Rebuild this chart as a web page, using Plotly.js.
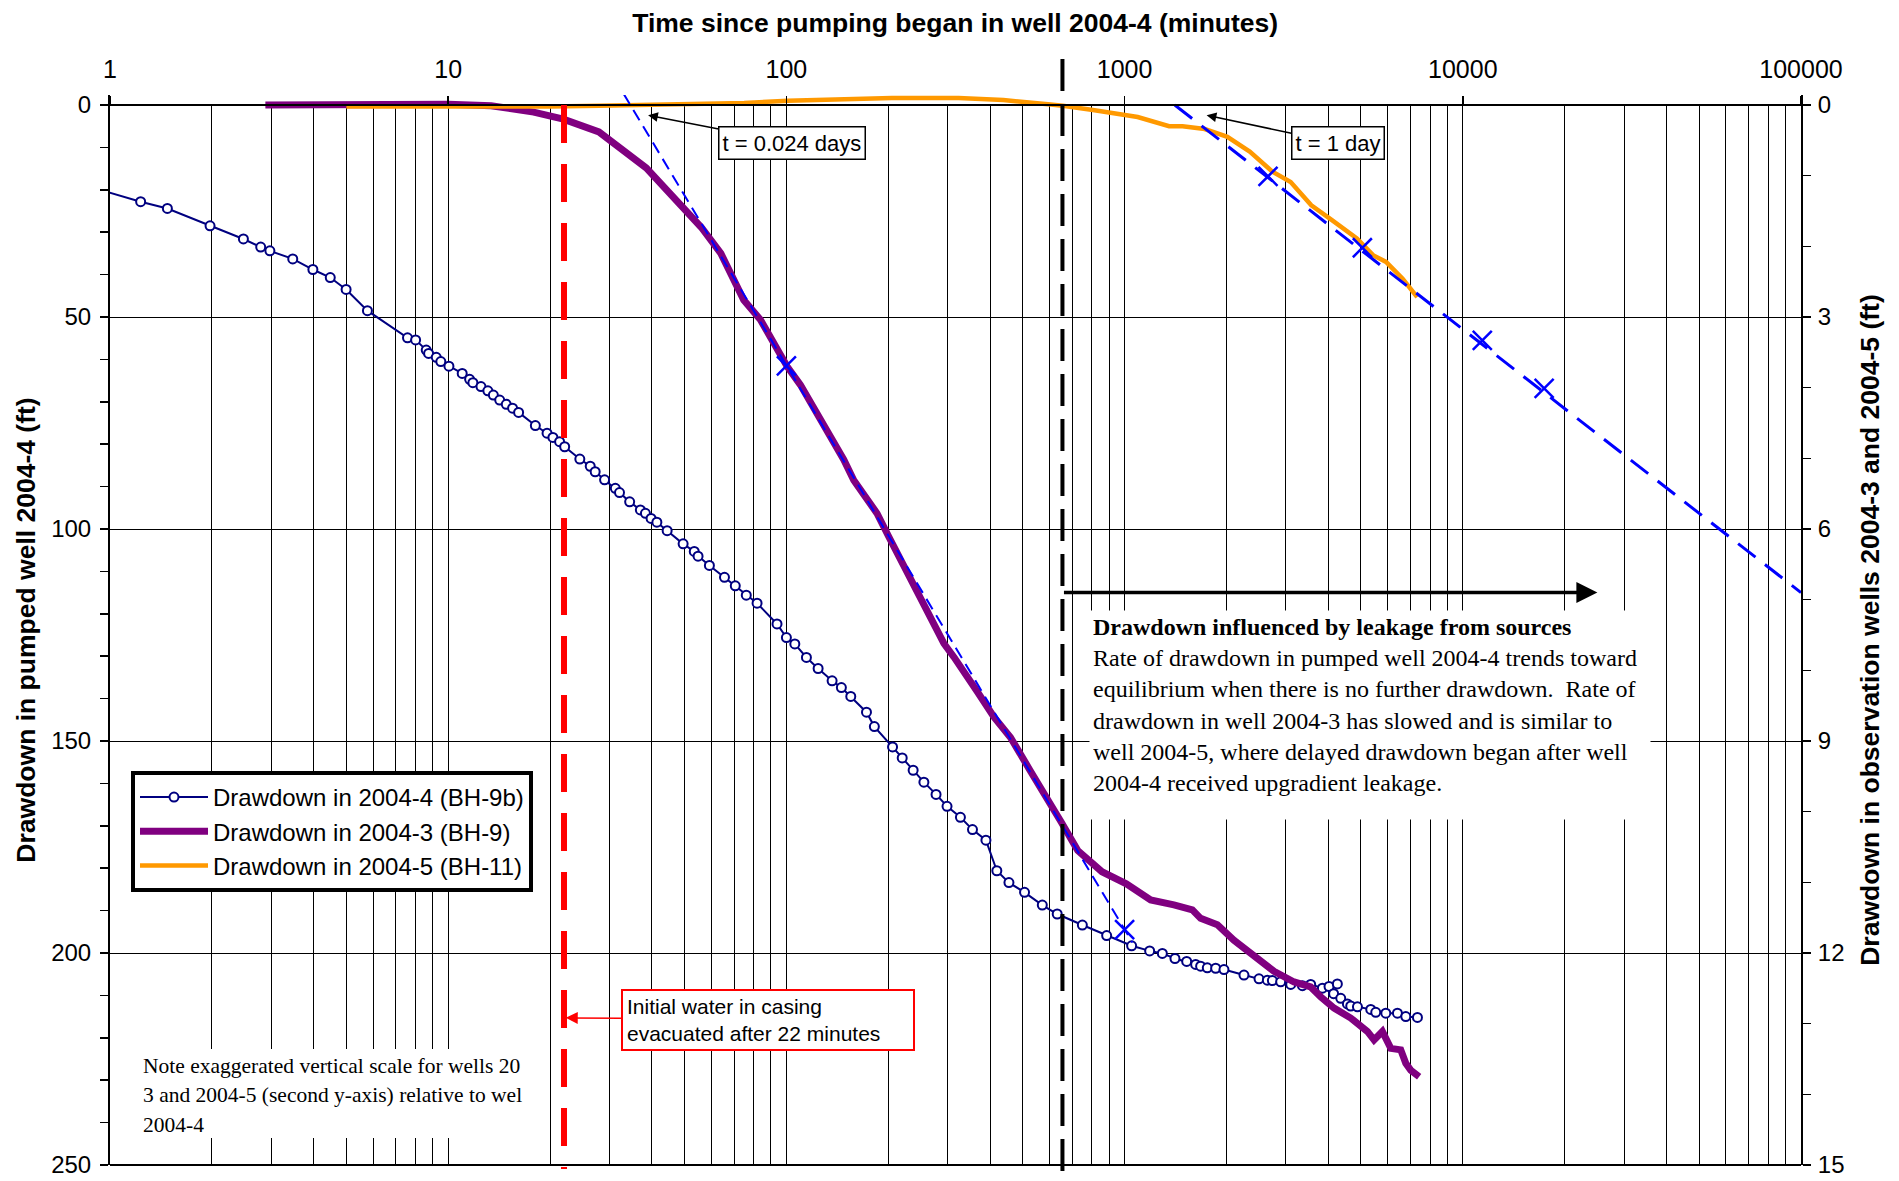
<!DOCTYPE html>
<html>
<head>
<meta charset="utf-8">
<script src="https://cdn.plot.ly/plotly-3.0.1.min.js"></script>
<style>
html,body{margin:0;padding:0;background:#fff;}
#chart{width:1899px;height:1181px;}
</style>
</head>
<body>
<div id="chart"></div>
<script>
// ---------- data ----------
// Drawdown in pumped well 2004-4 (BH-9b), left axis (ft)
const time44 = [0.95,1.232,1.478,1.976,2.48,2.79,2.97,3.47,3.98,4.48,4.99,5.77,7.58,8.01,8.61,8.75,9.22,9.51,10.05,11.0,11.57,11.83,12.5,13.1,13.6,14.2,14.85,15.5,16.15,18.1,19.6,20.4,21.35,22.1,24.5,26.3,27.2,29.0,31.2,32.1,34.4,37.0,38.3,39.8,41.4,44.4,49.5,53.4,54.8,59.2,65.6,70.6,76.1,81.9,93.8,100,105.9,114.6,124.1,136.5,145.4,155,172.5,182,206,220,237,255,277,298.5,327,355,389,419,455,506,571,632,750,885,1049,1186,1293,1409,1526,1622,1678,1756,1859,1967,2254,2497,2643,2735,2894,3099,3356,3550,3845,4022,4257,4150,4356,4558,4663,4881,5343,5528,5920,6408,6783,7343];
const dd44 = [20.2,22.8,24.4,28.5,31.6,33.5,34.4,36.3,38.8,40.7,43.5,48.5,54.9,55.4,57.8,58.6,59.5,60.5,61.6,63.3,64.7,65.5,66.4,67.4,68.4,69.6,70.6,71.5,72.5,75.6,77.4,78.4,79.4,80.6,83.5,85.2,86.5,88.4,90.4,91.4,93.6,95.5,96.3,97.5,98.4,100.4,103.5,105.3,106.4,108.6,111.4,113.4,115.6,117.5,122.4,125.6,127.1,130.3,132.9,135.8,137.4,139.5,143.2,146.6,151.4,154,156.9,159.7,162.6,165.4,168,170.9,173.4,180.6,183.4,185.7,188.7,190.8,193.4,195.9,198.3,199.5,200.1,201.3,202.0,202.7,203.1,203.5,203.6,203.9,205.2,206.1,206.4,206.5,206.8,207.4,207.7,207.4,208.3,207.9,207.3,209.6,210.7,212.0,212.5,212.7,213.3,214.0,214.2,214.2,215.0,215.2];

// Drawdown in 2004-3 (BH-9), right axis (ft)
const time43 = [2.88,5,8,10,13.4,17.9,21.9,27.9,38.5,49.9,56,64,74.8,83.8,91.7,100.5,110,117.8,126.1,135,147.8,158.2,171.3,185.4,200.8,217.5,238.1,254.9,272.9,292.2,312.6,334.7,366.6,410.7,460,526,600,650,727,857,1012,1194,1399,1586,1678,1881,2106,2413,2766,3170,3550,3802,4163,4663,5223,5465,5784,6124,6555,6783,7018,7429];
const dd43 = [0,-0.01,-0.02,-0.01,0.01,0.10,0.20,0.38,0.89,1.45,1.73,2.10,2.76,3.04,3.37,3.70,3.96,4.20,4.43,4.69,5.02,5.31,5.54,5.78,6.11,6.44,6.77,7.05,7.38,7.62,7.81,8.04,8.30,8.66,8.95,9.42,9.90,10.15,10.55,10.85,11.02,11.25,11.32,11.39,11.51,11.60,11.82,12.05,12.26,12.41,12.48,12.62,12.78,12.92,13.11,13.23,13.11,13.35,13.37,13.56,13.66,13.75];

// Drawdown in 2004-5 (BH-11), right axis (ft)
const time45 = [5,7,10,13,20,28,52,75,101,137,205,323,438,594,656,806,1093,1354,1484,1725,2013,2344,2729,3097,3565,4103,4862,5446,5930,6640,7330];
const dd45 = [0.02,0.02,0.02,0.03,0.02,0.01,-0.01,-0.03,-0.06,-0.08,-0.10,-0.10,-0.07,-0.01,0.01,0.07,0.17,0.30,0.30,0.34,0.45,0.66,0.94,1.09,1.42,1.63,1.89,2.13,2.22,2.46,2.72];

// Straight-line fits (right axis)
const fit43Time = [33, 1054];
const fit43Dd = [-0.16, 11.85];
const fit43MarkTime = [100, 1000];
const fit43MarkDd = [3.69, 11.67];
const fit45Time = [1407, 100000];
const fit45Dd = [0, 6.9];
const fit45MarkTime = [2655, 5047, 11420, 17400];
const fit45MarkDd = [1.01, 2.02, 3.33, 4.01];

// Event times (minutes) and annotation anchors
const casingTime = 22;
const leakageTime = 655;
const leakageArrowEnd = 25000;
const leakageArrowDepth = 115;
const t024Time = 39;     // arrow tip for t = 0.024 days
const t1dayTime = 1748;  // arrow tip for t = 1 day

const xTickVals = [1, 10, 100, 1000, 10000, 100000];
const xTickText = ['1', '10', '100', '1000', '10000', '100000'];

const noteLines = ['Note exaggerated vertical scale for wells 20',
                   '3 and 2004-5 (second y-axis) relative to wel',
                   '2004-4'];

// ---------- geometry helpers (pixels of the 1899x1181 page) ----------
const PLOT_TOP = 95, PLOT_BOTTOM = 1165, PLOT_LEFT = 110, PLOT_RIGHT = 1801;
const ZERO_PX = 105;                    // pixel row of drawdown 0
const PX_PER_FT = (PLOT_BOTTOM - ZERO_PX) / 250;
const yTopFt = -(ZERO_PX - PLOT_TOP) / PX_PER_FT;   // left axis value at plot top
const y2TopFt = yTopFt * 15 / 250;
const py = Y => (PLOT_BOTTOM - Y) / (PLOT_BOTTOM - PLOT_TOP);
const px = X => (X - PLOT_LEFT) / (PLOT_RIGHT - PLOT_LEFT);

// ---------- traces ----------
const L = Math.log10;
const traces = [
  {x: time44, y: dd44, yaxis: 'y', mode: 'lines+markers', name: 'Drawdown in 2004-4 (BH-9b)',
   line: {color: '#000080', width: 2},
   marker: {symbol: 'circle', size: 9, color: '#ffffff', line: {color: '#000080', width: 2}}},
  {x: time43, y: dd43, yaxis: 'y2', mode: 'lines', name: 'Drawdown in 2004-3 (BH-9)',
   line: {color: '#800080', width: 7}},
  {x: time45, y: dd45, yaxis: 'y2', mode: 'lines', name: 'Drawdown in 2004-5 (BH-11)',
   line: {color: '#FF9900', width: 4.5}},
  {x: fit43Time, y: fit43Dd, yaxis: 'y2', mode: 'lines', showlegend: false, hoverinfo: 'skip',
   line: {color: '#0000FF', width: 2, dash: '12px,7px'}},
  {x: fit43MarkTime, y: fit43MarkDd, yaxis: 'y2', mode: 'markers', showlegend: false,
   marker: {symbol: 'x-thin', size: 19, line: {color: '#0000FF', width: 2.5}}},
  {x: fit45Time, y: fit45Dd, yaxis: 'y2', mode: 'lines', showlegend: false, hoverinfo: 'skip',
   line: {color: '#0000FF', width: 3, dash: '22px,12px'}},
  {x: fit45MarkTime, y: fit45MarkDd, yaxis: 'y2', mode: 'markers', showlegend: false,
   marker: {symbol: 'x-thin', size: 19, line: {color: '#0000FF', width: 2.5}}}
];

const AR = 'Arial, "Liberation Sans", sans-serif';
const TR = '"Times New Roman", "Liberation Serif", serif';

const annotations = [
  // leakage arrow
  {xref: 'x', yref: 'y', axref: 'x', ayref: 'y', x: L(leakageArrowEnd), y: leakageArrowDepth,
   ax: L(leakageTime), ay: leakageArrowDepth, text: '', showarrow: true,
   arrowhead: 2, arrowsize: 1.2, arrowwidth: 3.5, arrowcolor: '#000'},
  // t = 0.024 days
  {xref: 'x', yref: 'y', axref: 'x', ayref: 'y', x: L(t024Time), y: 2.4, ax: 2.0163, ay: 9.0,
   text: 't = 0.024 days', showarrow: true, arrowhead: 2, arrowsize: 1.3, arrowwidth: 1.5, arrowcolor: '#000',
   font: {family: AR, size: 22, color: '#000'}, bgcolor: '#fff', bordercolor: '#000', borderwidth: 1.5, borderpad: 3},
  // t = 1 day
  {xref: 'x', yref: 'y', axref: 'x', ayref: 'y', x: L(t1dayTime), y: 2.4, ax: 3.630, ay: 9.0,
   text: 't = 1 day', showarrow: true, arrowhead: 2, arrowsize: 1.3, arrowwidth: 1.5, arrowcolor: '#000',
   font: {family: AR, size: 22, color: '#000'}, bgcolor: '#fff', bordercolor: '#000', borderwidth: 1.5, borderpad: 3},
  // casing
  {xref: 'x', yref: 'y', axref: 'x', ayref: 'y', x: L(casingTime * 1.012), y: 215.3, ax: 1.9453, ay: 215.7,
   text: 'Initial water in casing<br>evacuated after 22 minutes', align: 'left',
   showarrow: true, arrowhead: 2, arrowsize: 1.6, arrowwidth: 1.5, arrowcolor: '#FF0000',
   font: {family: AR, size: 21, color: '#000'}, bgcolor: '#fff', bordercolor: '#FF0000', borderwidth: 2, borderpad: 4,
   width: 282, height: 50},
  // leakage explanation
  {xref: 'paper', yref: 'paper', x: px(1089), y: py(610), xanchor: 'left', yanchor: 'top', showarrow: false,
   text: '<b>Drawdown influenced by leakage from sources</b><br>Rate of drawdown in pumped well 2004-4 trends toward<br>equilibrium when there is no further drawdown.  Rate of<br>drawdown in well 2004-3 has slowed and is similar to<br>well 2004-5, where delayed drawdown began after well<br>2004-4 received upgradient leakage.',
   align: 'left', valign: 'top', width: 554, height: 202, borderpad: 3, bgcolor: '#fff',
   font: {family: TR, size: 24, color: '#000'}}
];
const noteY = [1066, 1095, 1125];
noteLines.forEach((t, i) => annotations.push({
  xref: 'paper', yref: 'paper', x: px(142), y: py(noteY[i]), xanchor: 'left', yanchor: 'middle',
  showarrow: false, text: t, align: 'left', borderpad: 0,
  font: {family: TR, size: 21.5, color: '#000'}}));

const layout = {
  width: 1899, height: 1181,
  margin: {l: PLOT_LEFT, r: 1899 - PLOT_RIGHT, t: PLOT_TOP, b: 1181 - PLOT_BOTTOM},
  paper_bgcolor: '#ffffff', plot_bgcolor: '#ffffff',
  font: {family: AR, color: '#000000'},
  title: {text: '<b>Time since pumping began in well 2004-4 (minutes)</b>',
          font: {family: AR, size: 26.5, color: '#000'},
          x: 0.503, xanchor: 'center', y: 0.981, yanchor: 'middle'},
  xaxis: {type: 'log', side: 'top', range: [0, 5], anchor: 'free', position: py(ZERO_PX),
          tickvals: xTickVals, ticktext: xTickText,
          ticks: 'outside', ticklen: 8, tickwidth: 1.5, tickcolor: '#000',
          tickfont: {family: AR, size: 25, color: '#000'}, ticklabelstandoff: 8,
          showline: true, linecolor: '#000', linewidth: 2,
          showgrid: true, gridcolor: '#000', gridwidth: 1,
          minor: {dtick: 'D1', showgrid: true, gridcolor: '#000', gridwidth: 1, ticks: ''},
          zeroline: false, automargin: false},
  yaxis: {range: [250, yTopFt], tickvals: [0, 50, 100, 150, 200, 250],
          ticks: 'outside', ticklen: 8, tickwidth: 1.5, tickcolor: '#000',
          tickfont: {family: AR, size: 24, color: '#000'}, ticklabelstandoff: 4,
          minor: {tick0: 0, dtick: 10, ticks: 'outside', ticklen: 8, tickwidth: 1.5, tickcolor: '#000', showgrid: false},
          showline: true, linecolor: '#000', linewidth: 2,
          showgrid: true, gridcolor: '#000', gridwidth: 1, zeroline: false,
          title: {text: '<b>Drawdown in pumped well 2004-4 (ft)</b>', font: {family: AR, size: 26.5, color: '#000'}, standoff: 8},
          automargin: false},
  yaxis2: {overlaying: 'y', side: 'right', range: [15, y2TopFt], tickvals: [0, 3, 6, 9, 12, 15],
          ticks: 'outside', ticklen: 8, tickwidth: 1.5, tickcolor: '#000',
          tickfont: {family: AR, size: 24, color: '#000'}, ticklabelstandoff: 2,
          minor: {tick0: 0, dtick: 1, ticks: 'outside', ticklen: 8, tickwidth: 1.5, tickcolor: '#000', showgrid: false},
          showline: true, linecolor: '#000', linewidth: 2,
          showgrid: false, zeroline: false,
          title: {text: '<b>Drawdown in observation wells 2004-3 and 2004-5 (ft)</b>', font: {family: AR, size: 26.5, color: '#000'}, standoff: 17},
          automargin: false},
  showlegend: true,
  legend: {x: px(131), y: py(771), xanchor: 'left', yanchor: 'top',
           bgcolor: '#ffffff', bordercolor: '#000', borderwidth: 4,
           font: {family: AR, size: 24, color: '#000'}, itemwidth: 68, tracegroupgap: 0},
  shapes: [
    // white band above drawdown 0 (hides grid above the top axis line)
    {type: 'rect', xref: 'x', yref: 'y', x0: 1, x1: 100000, y0: 0, y1: yTopFt,
     fillcolor: '#ffffff', line: {width: 0}, layer: 'between'},
    // bottom frame line
    {type: 'line', xref: 'paper', yref: 'paper', x0: 0, x1: 1, y0: 0, y1: 0,
     line: {color: '#000', width: 2}, layer: 'above'},
    // background of the note
    {type: 'rect', xref: 'paper', yref: 'paper', x0: px(133), x1: px(530), y0: py(1049), y1: py(1138),
     fillcolor: '#ffffff', line: {width: 0}, layer: 'above'},
    {type: 'line', xref: 'x', yref: 'paper', x0: casingTime, x1: casingTime, y0: py(ZERO_PX), y1: py(1169),
     line: {color: '#FF0000', width: 6, dash: '38px,21px'}, layer: 'above'},
    {type: 'line', xref: 'x', yref: 'paper', x0: leakageTime, x1: leakageTime, y0: py(59), y1: py(1181),
     line: {color: '#000000', width: 4, dash: '32px,13px'}, layer: 'above'}
  ],
  annotations: annotations
};

Plotly.newPlot('chart', traces, layout, {staticPlot: true, displayModeBar: false});
</script>
</body>
</html>
